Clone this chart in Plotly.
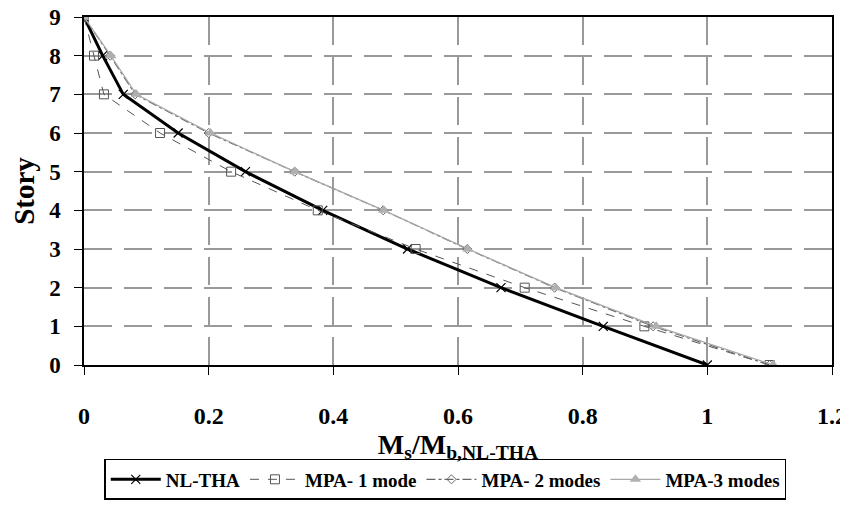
import plotly.graph_objects as go

story = [9, 8, 7, 6, 5, 4, 3, 2, 1, 0]
nl_tha = [0.0, 0.03, 0.063, 0.151, 0.259, 0.383, 0.519, 0.669, 0.833, 1.0]
mpa1 = [0.0, 0.016, 0.032, 0.122, 0.236, 0.375, 0.532, 0.707, 0.899, 1.10]
mpa2 = [0.0, 0.042, 0.082, 0.200, 0.338, 0.480, 0.615, 0.755, 0.913, 1.10]
mpa3 = [0.0, 0.043, 0.084, 0.203, 0.338, 0.481, 0.616, 0.757, 0.918, 1.106]

x_ticks = [0, 0.2, 0.4, 0.6, 0.8, 1, 1.2]
x_labels = ["0", "0.2", "0.4", "0.6", "0.8", "1", "1.2"]
y_ticks = [0, 1, 2, 3, 4, 5, 6, 7, 8, 9]
y_labels = [str(v) for v in y_ticks]

font = "Liberation Serif"

fig = go.Figure()
fig.add_trace(go.Scatter(x=nl_tha, y=story, name="<b>NL-THA</b>", mode="lines+markers",
                         line=dict(color="black", width=3),
                         marker=dict(symbol="x-thin", size=9, line=dict(color="black", width=1.2))))
fig.add_trace(go.Scatter(x=mpa1, y=story, name="<b>MPA- 1 mode</b>", mode="lines+markers",
                         line=dict(color="#555555", width=1, dash="dash"),
                         marker=dict(symbol="square-open", size=9, color="#555555", line=dict(width=1))))
fig.add_trace(go.Scatter(x=mpa2, y=story, name="<b>MPA- 2 modes</b>", mode="lines+markers",
                         line=dict(color="#666666", width=1.2, dash="dashdot"),
                         marker=dict(symbol="diamond-open", size=7, color="#666666", line=dict(width=1))))
fig.add_trace(go.Scatter(x=mpa3, y=story, name="<b>MPA-3 modes</b>", mode="lines+markers",
                         line=dict(color="#a8a8a8", width=1.2),
                         marker=dict(symbol="triangle-up", size=10, color="#b0b0b0")))

fig.update_layout(
    width=840, height=501,
    margin=dict(l=76, r=16, t=9, b=142),
    paper_bgcolor="white", plot_bgcolor="white",
    font=dict(family=font, size=20, color="black"),
    showlegend=True,
    legend=dict(orientation="h", x=0.483, xanchor="center", y=-0.27, yanchor="top",
                bordercolor="black", borderwidth=1.5, itemwidth=50,
                font=dict(family=font, size=19, color="black"),
                tracegroupgap=0),
    xaxis=dict(range=[0, 1.2], tickvals=x_ticks, ticktext=["<b>%s</b>" % t for t in x_labels],
               automargin=False, ticklabeloverflow="allow",
               showgrid=True, gridcolor="#999999", griddash="28px,12px", gridwidth=1.5,
               showline=True, linecolor="black", linewidth=1.5, mirror=True,
               ticks="outside", ticklen=8, tickcolor="black", zeroline=False,
               tickfont=dict(family=font, size=24), ticklabelstandoff=20,
               title=dict(text="<b>M<sub>s</sub>/M<sub>b,NL-THA</sub></b>",
                          font=dict(family=font, size=28), standoff=2)),
    yaxis=dict(range=[0, 9], tickvals=y_ticks, ticktext=["<b>%s</b>" % t for t in y_labels],
               automargin=False, ticklabeloverflow="allow",
               showgrid=True, gridcolor="#999999", griddash="28px,12px", gridwidth=1.5,
               showline=True, linecolor="black", linewidth=1.5, mirror=True,
               ticks="outside", ticklen=8, tickcolor="black", zeroline=False,
               tickfont=dict(family=font, size=23), ticklabelstandoff=9,
               title=dict(text="<b>Story</b>", font=dict(family=font, size=29), standoff=6)),
)

fig.write_html("out.html")
